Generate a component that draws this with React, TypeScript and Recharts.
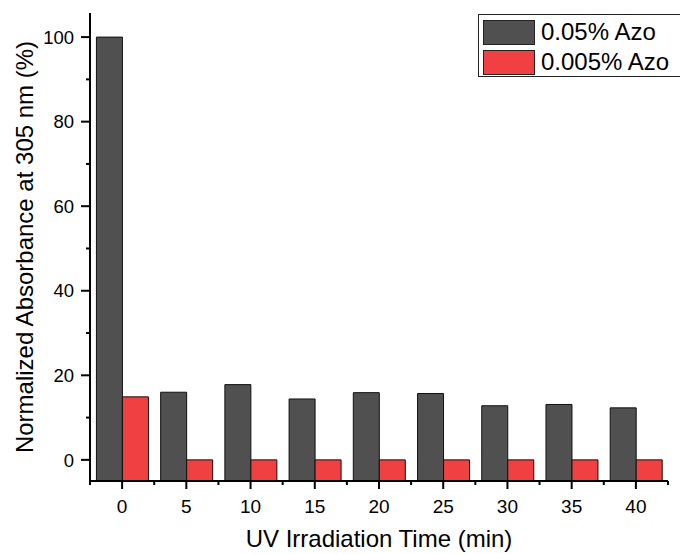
import React from 'react';
import { BarChart, Bar, XAxis, YAxis } from 'recharts';

const times = ['0', '5', '10', '15', '20', '25', '30', '35', '40'];
const azo005 = [100, 16.0, 17.8, 14.4, 15.9, 15.7, 12.8, 13.1, 12.3];
const azo0005 = [14.9, 0, 0, 0, 0, 0, 0, 0, 0];
const yTicks = [0, 10, 20, 30, 40, 50, 60, 70, 80, 90, 100];
const seriesNames = ['0.05% Azo', '0.005% Azo'];

const Y_MIN = -5;
const Y_MAX = 105.7;
const FONT = '"Liberation Sans", Arial, sans-serif';
const DARK = '#505050';
const RED = '#f04042';

// bars start at the bottom of the axis, not at zero
const data = times.map((t, i) => ({
  time: t,
  a: [Y_MIN, azo005[i]],
  b: [Y_MIN, azo0005[i]],
}));

const XTick = (props: any) => {
  const { x, y, payload, index } = props;
  const half = payload.offset || 0;
  return (
    <g>
      <line x1={x} x2={x} y1={y} y2={y + 8} stroke="#000" strokeWidth={2} />
      <line x1={x - half} x2={x - half} y1={y} y2={y + 4} stroke="#000" strokeWidth={2} />
      {index === times.length - 1 && (
        <line x1={x + half} x2={x + half} y1={y} y2={y + 4} stroke="#000" strokeWidth={2} />
      )}
      <text x={x} y={y + 32} textAnchor="middle" fontSize={19} fontFamily={FONT} fill="#000">
        {payload.value}
      </text>
    </g>
  );
};

const YTick = (props: any) => {
  const { x, y, payload } = props;
  const major = payload.value % 20 === 0;
  return (
    <g>
      <line x1={x - (major ? 9 : 4)} x2={x} y1={y} y2={y} stroke="#000" strokeWidth={2} />
      {major && (
        <text x={x - 16} y={y} dy="0.36em" textAnchor="end" fontSize={18.5} fontFamily={FONT} fill="#000">
          {payload.value}
        </text>
      )}
    </g>
  );
};

const LegendBox = () => {
  const colors = [DARK, RED];
  return (
    <div
      style={{
        position: 'absolute',
        left: 478,
        top: 14,
        width: 210,
        height: 63,
        border: '1px solid #222',
        background: '#fff',
        boxSizing: 'border-box',
        fontFamily: FONT,
      }}
    >
      {seriesNames.map((n, i) => (
        <div key={n} style={{ position: 'absolute', left: 4, top: 4 + i * 30, height: 26, display: 'flex', alignItems: 'center' }}>
          <div style={{ width: 52, height: 25, background: colors[i], border: '1px solid #222', boxSizing: 'border-box' }} />
          <span style={{ marginLeft: 6, fontSize: 24, color: '#000', lineHeight: '26px' }}>{n}</span>
        </div>
      ))}
    </div>
  );
};

export default function App() {
  return (
    <div style={{ position: 'absolute', left: 0, top: 0, width: 680, height: 554, background: '#fff', overflow: 'hidden' }}>
      <BarChart
        width={680}
        height={554}
        data={data}
        margin={{ top: 13, right: 12, left: 0, bottom: 0 }}
        barCategoryGap="10%"
        barGap={0}
      >
        <XAxis
          dataKey="time"
          height={73}
          tickSize={0}
          tickMargin={0}
          tickLine={false}
          axisLine={{ stroke: '#000', strokeWidth: 2 }}
          tick={<XTick />}
          interval={0}
          label={{ value: 'UV Irradiation Time (min)', position: 'insideBottom', offset: 7, style: { fontSize: 24, fontFamily: FONT, fill: '#000' } }}
        />
        <YAxis
          type="number"
          domain={[Y_MIN, Y_MAX]}
          allowDataOverflow
          ticks={yTicks}
          interval={0}
          width={90}
          tickSize={0}
          tickMargin={0}
          tickLine={false}
          axisLine={{ stroke: '#000', strokeWidth: 2 }}
          tick={<YTick />}
          label={{
            value: 'Normalized Absorbance at 305 nm (%)',
            angle: -90,
            position: 'insideLeft',
            offset: 24,
            style: { fontSize: 24, fontFamily: FONT, fill: '#000', textAnchor: 'middle' },
          }}
        />
        <Bar dataKey="a" name={seriesNames[0]} fill={DARK} stroke="#111" strokeWidth={1} isAnimationActive={false} />
        <Bar dataKey="b" name={seriesNames[1]} fill={RED} stroke="#111" strokeWidth={1} isAnimationActive={false} />
      </BarChart>
      <LegendBox />
    </div>
  );
}
